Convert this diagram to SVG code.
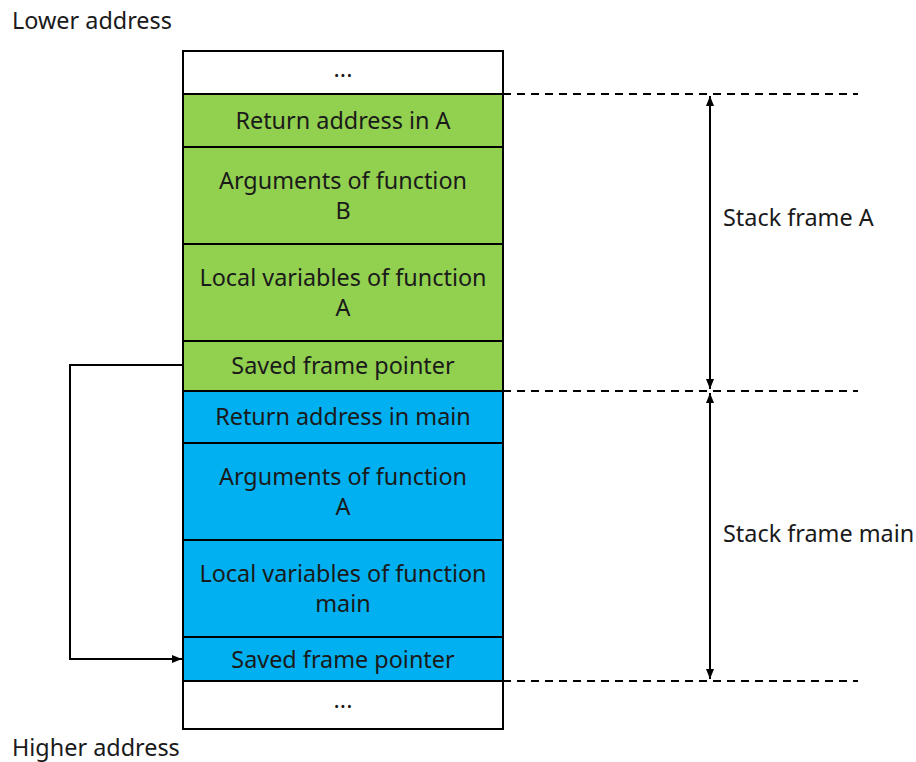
<svg xmlns="http://www.w3.org/2000/svg" width="916" height="762" viewBox="0 0 916 762">
  <defs>
    <marker id="arrow" viewBox="0 0 10 10" refX="10" refY="5" markerWidth="10" markerHeight="10" markerUnits="userSpaceOnUse" orient="auto-start-reverse">
      <path d="M0,1 L10,5 L0,9 Z" fill="#000"/>
    </marker>
  </defs>
  <style>
    text { font-family: "Noto Sans", "Open Sans", "Liberation Sans", sans-serif; font-size: 23.4px; fill: #1a1a1a; }
    .c { text-anchor: middle; }
    .cell { stroke: #000; stroke-width: 2; }
    .white { fill: #fff; }
    .green { fill: #92D050; }
    .blue { fill: #00B0F0; }
    .dash { stroke: #000; stroke-width: 2; stroke-dasharray: 8 6; fill: none; }
    .line { stroke: #000; stroke-width: 2; fill: none; }
  </style>
  <rect width="916" height="762" fill="#fff"/>

  <text x="12" y="29">Lower address</text>
  <text x="12" y="756">Higher address</text>

  <g id="top-ellipsis"><rect class="cell white" x="183" y="51" width="320" height="43"/><text class="c" x="343" y="77">...</text></g>
  <g id="ret-a"><rect class="cell green" x="183" y="94" width="320" height="53"/><text class="c" x="343" y="129">Return address in A</text></g>
  <g id="args-b"><rect class="cell green" x="183" y="147" width="320" height="97"/><text class="c" x="343" y="189">Arguments of function</text><text class="c" x="343" y="219">B</text></g>
  <g id="locals-a"><rect class="cell green" x="183" y="244" width="320" height="97"/><text class="c" x="343" y="286">Local variables of function</text><text class="c" x="343" y="316">A</text></g>
  <g id="fp-a"><rect class="cell green" x="183" y="341" width="320" height="50"/><text class="c" x="343" y="374">Saved frame pointer</text></g>
  <g id="ret-main"><rect class="cell blue" x="183" y="391" width="320" height="52"/><text class="c" x="343" y="425">Return address in main</text></g>
  <g id="args-a"><rect class="cell blue" x="183" y="443" width="320" height="97"/><text class="c" x="343" y="485">Arguments of function</text><text class="c" x="343" y="515">A</text></g>
  <g id="locals-main"><rect class="cell blue" x="183" y="540" width="320" height="97"/><text class="c" x="343" y="582">Local variables of function</text><text class="c" x="343" y="612">main</text></g>
  <g id="fp-main"><rect class="cell blue" x="183" y="637" width="320" height="44"/><text class="c" x="343" y="668">Saved frame pointer</text></g>
  <g id="bottom-ellipsis"><rect class="cell white" x="183" y="681" width="320" height="48"/><text class="c" x="343" y="708">...</text></g>

  <g id="frame-a-label"><text x="723" y="226">Stack frame A</text></g>
  <g id="frame-main-label"><text x="723" y="542">Stack frame main</text></g>

  <g id="connectors">
    <path class="dash" d="M503,94 H858"/>
    <path class="dash" d="M503,391 H858"/>
    <path class="dash" d="M503,681 H858"/>
    <path class="line" d="M710,96 V389" marker-start="url(#arrow)" marker-end="url(#arrow)"/>
    <path class="line" d="M710,393 V679" marker-start="url(#arrow)" marker-end="url(#arrow)"/>
    <path class="line" d="M183,365 H70 V659 H182" marker-end="url(#arrow)" stroke-width="1.6"/>
  </g>
</svg>
